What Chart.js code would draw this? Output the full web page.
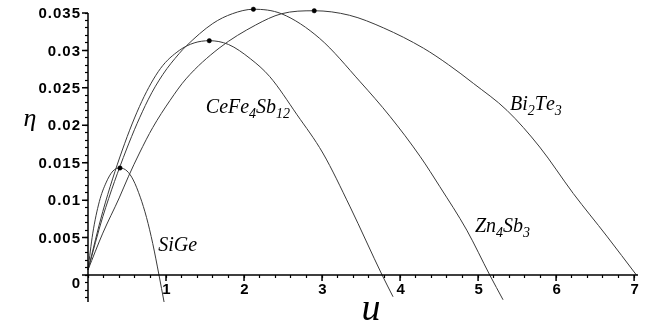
<!DOCTYPE html>
<html>
<head>
<meta charset="utf-8">
<script src="https://cdn.jsdelivr.net/npm/chart.js@4.4.0/dist/chart.umd.min.js"></script>
<style>
html, body { margin: 0; padding: 0; background: #fff; }
#wrap { width: 654px; height: 327px; }
</style>
</head>
<body>
<div id="wrap"><canvas id="chart" width="654" height="327"></canvas></div>
<script>
// curves: u (x) and efficiency eta (y)
var siGeU   = [0, 0.06, 0.145, 0.23, 0.32, 0.41, 0.50, 0.58, 0.67, 0.75, 0.83, 0.91, 0.975];
var siGeEta = [0.0007, 0.0055, 0.0098, 0.0123, 0.0139, 0.0143, 0.0139, 0.0127, 0.0104, 0.0077, 0.0042, 0, -0.0036];

var ceFeU   = [0, 0.19, 0.44, 0.69, 0.93, 1.17, 1.36, 1.555, 1.8, 2.08, 2.33, 2.68, 3.01, 3.36, 3.77, 3.91];
var ceFeEta = [0.0007, 0.0085, 0.0167, 0.0232, 0.0276, 0.0300, 0.0310, 0.0313, 0.0308, 0.0289, 0.0265, 0.0214, 0.0163, 0.0091, 0, -0.0029];

var znSbU   = [0, 0.19, 0.49, 0.77, 0.96, 1.17, 1.26, 1.60, 1.85, 2.12, 2.48, 2.97, 3.49, 3.87, 4.26, 4.51, 4.855, 5.15, 5.32];
var znSbEta = [0.0007, 0.0078, 0.0167, 0.0234, 0.0268, 0.0296, 0.0306, 0.0336, 0.0349, 0.0355, 0.0349, 0.0316, 0.0258, 0.0212, 0.0158, 0.0118, 0.006, 0, -0.0033];

var biTeU   = [0, 0.19, 0.40, 0.52, 0.66, 0.83, 1.05, 1.256, 1.68, 2.15, 2.48, 2.90, 3.35, 3.79, 4.30, 4.62, 4.94, 5.37, 5.79, 6.22, 6.65, 7.03];
var biTeEta = [0.0007, 0.0056, 0.0103, 0.0132, 0.0163, 0.0197, 0.0233, 0.0262, 0.0303, 0.0334, 0.0349, 0.0353, 0.0347, 0.0330, 0.0303, 0.0281, 0.0256, 0.0220, 0.0171, 0.0109, 0.0052, 0];

// maximum points marked with dots
var peakU   = [0.41, 1.555, 2.12, 2.90];
var peakEta = [0.0143, 0.0313, 0.0355, 0.0353];

// curve names and where they sit (data coords, left / baseline)
var curveNames = ["SiGe", "CeFe4Sb12", "Zn4Sb3", "Bi2Te3"];
var nameU      = [0.90, 1.51, 4.96, 5.41];
var nameEta    = [0.0032, 0.0216, 0.0057, 0.0220];

// tick labels
var xTickValues = [1, 2, 3, 4, 5, 6, 7];
var yTickValues = [0, 0.005, 0.01, 0.015, 0.02, 0.025, 0.03, 0.035];
var yTickText   = ["0", "0.005", "0.01", "0.015", "0.02", "0.025", "0.03", "0.035"];

function toPoints(us, etas) {
	var pts = [];
	for (var i = 0; i < us.length; i++) {
		pts.push({x: us[i], y: etas[i]});
	}
	return pts;
}

function curve(us, etas) {
	return {
		data: toPoints(us, etas),
		showLine: true,
		borderColor: "#3a3a3a",
		borderWidth: 1,
		pointRadius: 0,
		cubicInterpolationMode: "monotone",
		fill: false,
		clip: false
	};
}

// draws formula with digits as subscripts
function drawFormula(ctx, text, x, y) {
	for (var i = 0; i < text.length; i++) {
		var ch = text[i];
		if (ch >= "0" && ch <= "9") {
			ctx.font = "italic 14px 'Liberation Serif'";
			ctx.fillText(ch, x, y + 5);
		} else {
			ctx.font = "italic 20px 'Liberation Serif'";
			ctx.fillText(ch, x, y);
		}
		x += ctx.measureText(ch).width;
	}
}

var textPlugin = {
	id: "mapleText",
	afterDraw: function(chart) {
		var ctx = chart.ctx;
		var xs = chart.scales.x;
		var ys = chart.scales.y;
		var x0 = xs.getPixelForValue(0);
		var y0 = ys.getPixelForValue(0);
		ctx.save();
		ctx.fillStyle = "#000";
		ctx.strokeStyle = "#000";
		ctx.lineWidth = 1.5;

		// axes and longer marks at the labelled ticks
		ctx.beginPath();
		ctx.moveTo(x0, ys.getPixelForValue(ys.min));
		ctx.lineTo(x0, ys.getPixelForValue(ys.max));
		ctx.moveTo(x0, y0);
		ctx.lineTo(xs.getPixelForValue(xs.max), y0);
		for (var a = 0; a < yTickValues.length; a++) {
			var py = ys.getPixelForValue(yTickValues[a]);
			ctx.moveTo(x0 - 6, py);
			ctx.lineTo(x0, py);
		}
		for (var b = 0; b < xTickValues.length; b++) {
			var px = xs.getPixelForValue(xTickValues[b]);
			ctx.moveTo(px, y0);
			ctx.lineTo(px, y0 + 6);
		}
		ctx.stroke();

		// tick labels
		ctx.font = "bold 15px 'Liberation Sans'";
		ctx.letterSpacing = "1px";
		ctx.textBaseline = "middle";
		ctx.textAlign = "right";
		for (var t = 0; t < yTickValues.length; t++) {
			var ly = ys.getPixelForValue(yTickValues[t]) + 1;
			if (yTickValues[t] === 0) ly += 8;   // "0" sits below the x axis
			ctx.fillText(yTickText[t], x0 - 7, ly);
		}
		ctx.textAlign = "center";
		for (var s = 0; s < xTickValues.length; s++) {
			ctx.fillText(String(xTickValues[s]), xs.getPixelForValue(xTickValues[s]) + 1, y0 + 15);
		}
		ctx.letterSpacing = "0px";

		// curve names
		ctx.textAlign = "left";
		ctx.textBaseline = "alphabetic";
		for (var n = 0; n < curveNames.length; n++) {
			drawFormula(ctx, curveNames[n], xs.getPixelForValue(nameU[n]), ys.getPixelForValue(nameEta[n]));
		}

		// axis titles
		ctx.textAlign = "center";
		ctx.font = "italic 26px 'Liberation Serif'";
		ctx.fillText("\u03b7", 30, 126);
		ctx.font = "italic 38px 'Liberation Serif'";
		ctx.fillText("u", 371, 320);
		ctx.restore();
	}
};

var pointsSet = {
	data: toPoints(peakU, peakEta),
	showLine: false,
	pointRadius: 2.2,
	pointBackgroundColor: "#000",
	pointBorderColor: "#000",
	pointBorderWidth: 0.5,
	clip: false
};

var chart = new Chart(document.getElementById("chart"), {
	type: "scatter",
	data: {
		datasets: [
			pointsSet,
			curve(siGeU, siGeEta),
			curve(ceFeU, ceFeEta),
			curve(znSbU, znSbEta),
			curve(biTeU, biTeEta)
		]
	},
	options: {
		responsive: false,
		animation: false,
		layout: {
			padding: {left: 88, right: 16, top: 13, bottom: 25}
		},
		plugins: {
			legend: {display: false},
			tooltip: {enabled: false}
		},
		scales: {
			x: {
				type: "linear",
				min: 0,
				max: 7.05,
				position: {y: 0},
				border: {display: false},
				grid: {display: true, drawOnChartArea: false, drawTicks: true, tickLength: 3, tickColor: "#000", tickWidth: 1.2},
				ticks: {display: false, stepSize: 0.2, includeBounds: false, autoSkip: false}
			},
			y: {
				type: "linear",
				min: -0.0036,
				max: 0.035,
				position: {x: 0},
				border: {display: false},
				grid: {display: true, drawOnChartArea: false, drawTicks: true, tickLength: 3, tickColor: "#000", tickWidth: 1.2},
				ticks: {display: false, stepSize: 0.001, includeBounds: false, autoSkip: false}
			}
		}
	},
	plugins: [textPlugin]
});
</script>
</body>
</html>
